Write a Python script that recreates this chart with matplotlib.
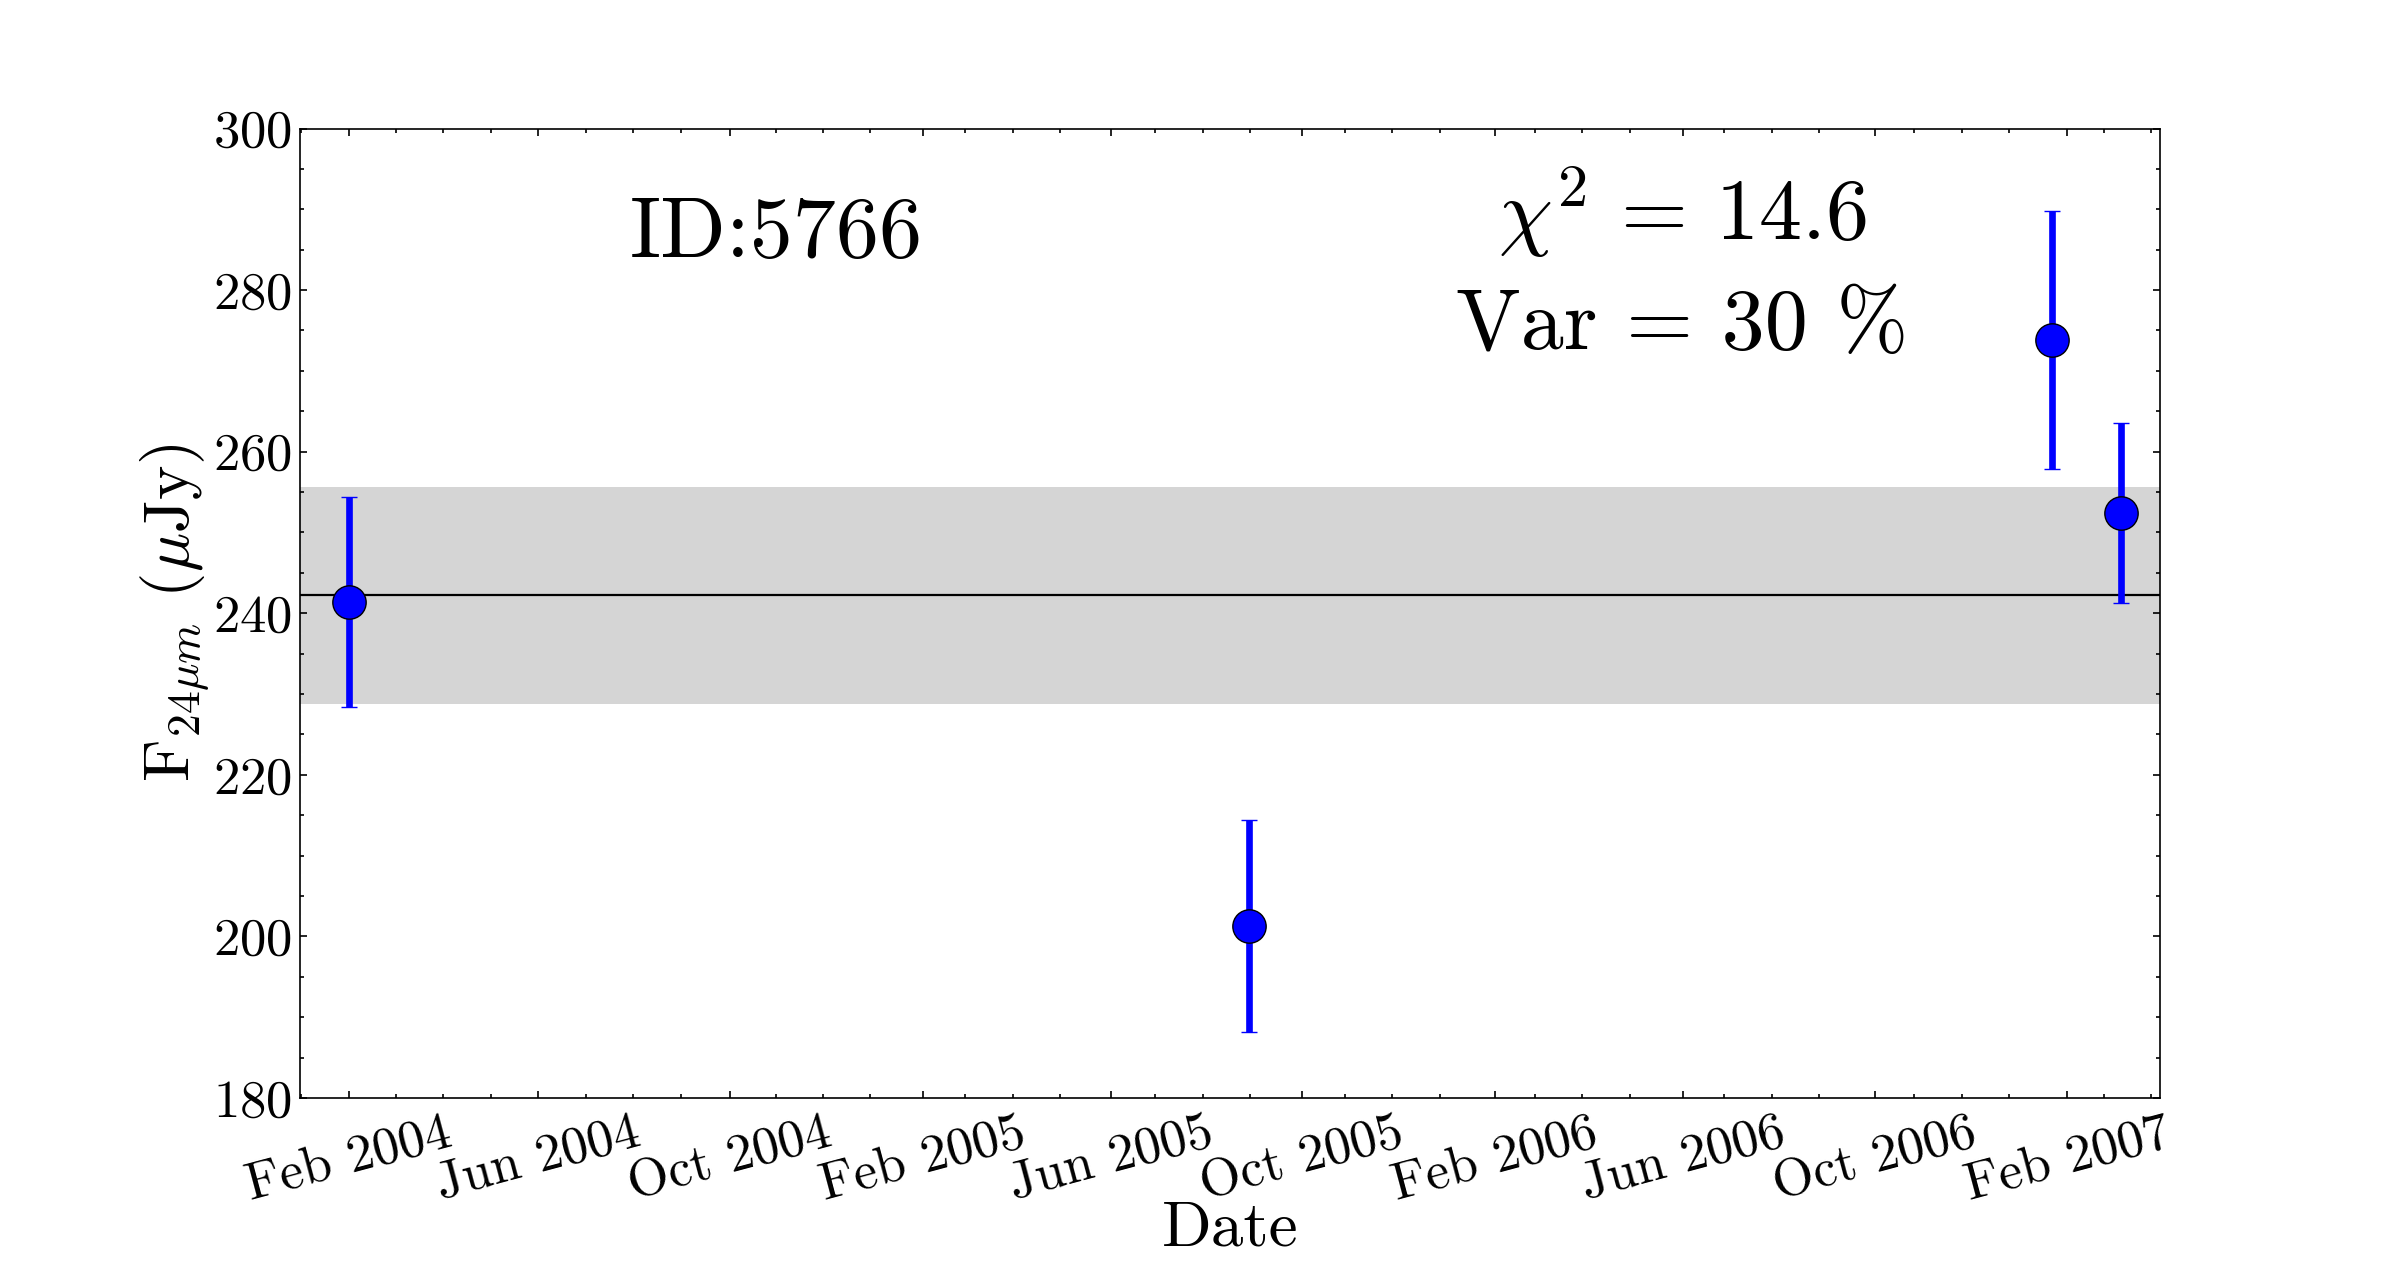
import numpy as np
import matplotlib
matplotlib.use('Agg')
import matplotlib.pyplot as plt
import matplotlib.dates as mdates
from matplotlib.ticker import MultipleLocator, FixedLocator
from datetime import datetime

plt.rcParams['font.family'] = 'cmr10'
plt.rcParams['mathtext.fontset'] = 'cm'
plt.rcParams['axes.formatter.use_mathtext'] = True

# epochs of the 24um observations
dates = [datetime(2004, 2, 1), datetime(2005, 8, 28),
         datetime(2007, 1, 22), datetime(2007, 3, 7)]
flux = [241.4, 201.3, 273.8, 252.4]
flux_err = [13.0, 13.1, 16.0, 11.1]

# mean flux and its spread
mean_flux = 242.2
mean_err = 13.4

source_id = '5766'
chi2 = 14.6
var_pct = 30

fig, ax = plt.subplots(figsize=(12, 6.425), dpi=200)
fig.subplots_adjust(left=0.125, right=0.9, top=0.9, bottom=0.1455)

ax.axhspan(mean_flux - mean_err, mean_flux + mean_err, color='#d5d5d5', lw=0, zorder=0)
ax.axhline(mean_flux, color='k', lw=0.8, zorder=1)
ax.errorbar(dates, flux, yerr=flux_err, fmt='o', color='blue', ecolor='blue',
            elinewidth=2.4, capsize=3, capthick=0.5, ms=12, mec='k', mew=0.5, zorder=3)

# x axis: dates
ax.set_xlim(datetime(2004, 1, 1), datetime(2007, 4, 1))
ax.xaxis.set_major_locator(mdates.MonthLocator(bymonth=[2, 6, 10]))
ax.xaxis.set_major_formatter(mdates.DateFormatter('%b %Y'))
t0 = mdates.date2num(datetime(2004, 2, 1))
step = (mdates.date2num(datetime(2004, 6, 1)) - t0) / 4
k = np.arange(-1, 39)
ax.xaxis.set_minor_locator(FixedLocator(t0 + k[k % 4 != 0] * step))

ax.set_ylim(180, 300)
ax.yaxis.set_major_locator(MultipleLocator(20))
ax.yaxis.set_minor_locator(MultipleLocator(5))

ax.tick_params(which='both', direction='in', top=True, right=True, width=0.6)
ax.tick_params(which='major', length=2.6, labelsize=19, pad=3)
ax.tick_params(which='minor', length=1.6)
ax.tick_params(axis='x', which='major', pad=4)
for lbl in ax.get_xticklabels():
    lbl.set_rotation(15)
for sp in ax.spines.values():
    sp.set_linewidth(0.6)

ax.text(0.256, 0.867, 'ID:' + source_id, transform=ax.transAxes,
        ha='center', va='baseline', fontsize=31)
ax.text(0.743, 0.885, r'$\chi^2\,=\,%.1f$' % chi2, transform=ax.transAxes,
        ha='center', va='baseline', fontsize=31)
ax.text(0.743, 0.773, 'Var = %d %%' % var_pct, transform=ax.transAxes,
        ha='center', va='baseline', fontsize=31)

ax.set_xlabel('Date', fontsize=23.5, labelpad=-3)
ax.set_ylabel(r'F$_{24\mu m}$ ($\mu$Jy)', fontsize=23.5, labelpad=1)

fig.savefig('out.png', dpi=200)
